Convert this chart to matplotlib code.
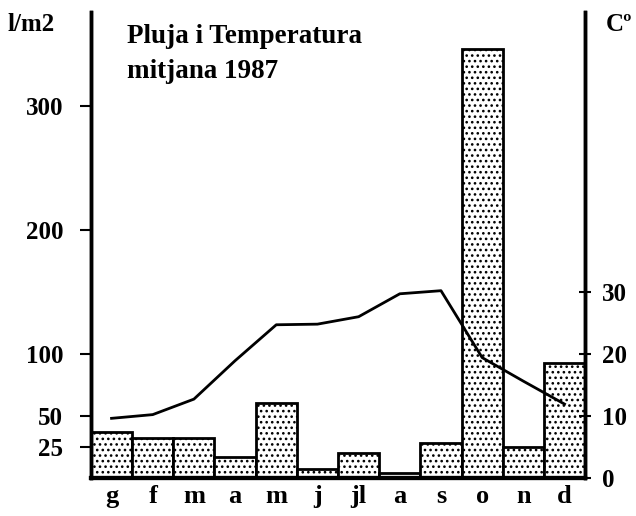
import matplotlib.pyplot as plt

# Pluja (l/m2) i temperatura mitjana (C) per mes, 1987
months = ['g', 'f', 'm', 'a', 'm', 'j', 'jl', 'a', 's', 'o', 'n', 'd']
rain = [37, 32, 32, 17, 60, 7, 20, 4, 28, 346, 25, 93]
temp = [9.6, 10.2, 12.7, 18.9, 24.7, 24.8, 26.0, 29.7, 30.2, 19.4, 15.6, 11.9]

left_ticks = [25, 50, 100, 200, 300]
right_ticks = [0, 10, 20, 30]

plt.rcParams['font.family'] = ['Liberation Serif', 'DejaVu Serif']
plt.rcParams['font.weight'] = 'bold'
plt.rcParams['hatch.linewidth'] = 1.1

fig = plt.figure(figsize=(6.36, 5.16), dpi=100)
ax = fig.add_axes([0.143, 0.074, 0.777, 0.903])

x = list(range(len(months)))
ax.bar(x, rain, width=1.0, color='white', edgecolor='black',
       linewidth=2, hatch='...', zorder=2)
ax.set_xlim(-0.5, len(months) - 0.5)
ax.set_ylim(0, 376)

ax2 = ax.twinx()
ax2.plot(x, temp, color='black', linewidth=2, zorder=3)
ax2.set_ylim(0, 376 / 5)

for a in (ax, ax2):
    a.spines['top'].set_visible(False)
    a.spines['left'].set_linewidth(2.5)
    a.spines['right'].set_linewidth(2.5)
    a.spines['bottom'].set_linewidth(3)

ax.set_xticks(x)
ax.set_xticklabels(months, fontsize=19, fontweight='bold')
ax.tick_params(axis='x', length=0, pad=5)
ax.set_yticks(left_ticks)
ax.set_yticklabels([str(t) for t in left_ticks], fontsize=18, fontweight='bold')
ax.tick_params(axis='y', direction='out', length=8, width=1.5, pad=12)

ax2.set_yticks(right_ticks)
ax2.set_yticklabels([str(t) for t in right_ticks], fontsize=18, fontweight='bold')
ax2.tick_params(axis='y', direction='inout', length=8, width=1.5, pad=8)

fig.text(0.012, 0.94, 'l/m2', fontsize=18, fontweight='bold')
fig.text(0.953, 0.94, 'C\u00ba', fontsize=18, fontweight='bold')
ax.text(0.073, 0.975, 'Pluja i Temperatura\nmitjana 1987', transform=ax.transAxes,
        fontsize=19.5, fontweight='bold', va='top', linespacing=1.55)

fig.savefig('out.png', dpi=100)
